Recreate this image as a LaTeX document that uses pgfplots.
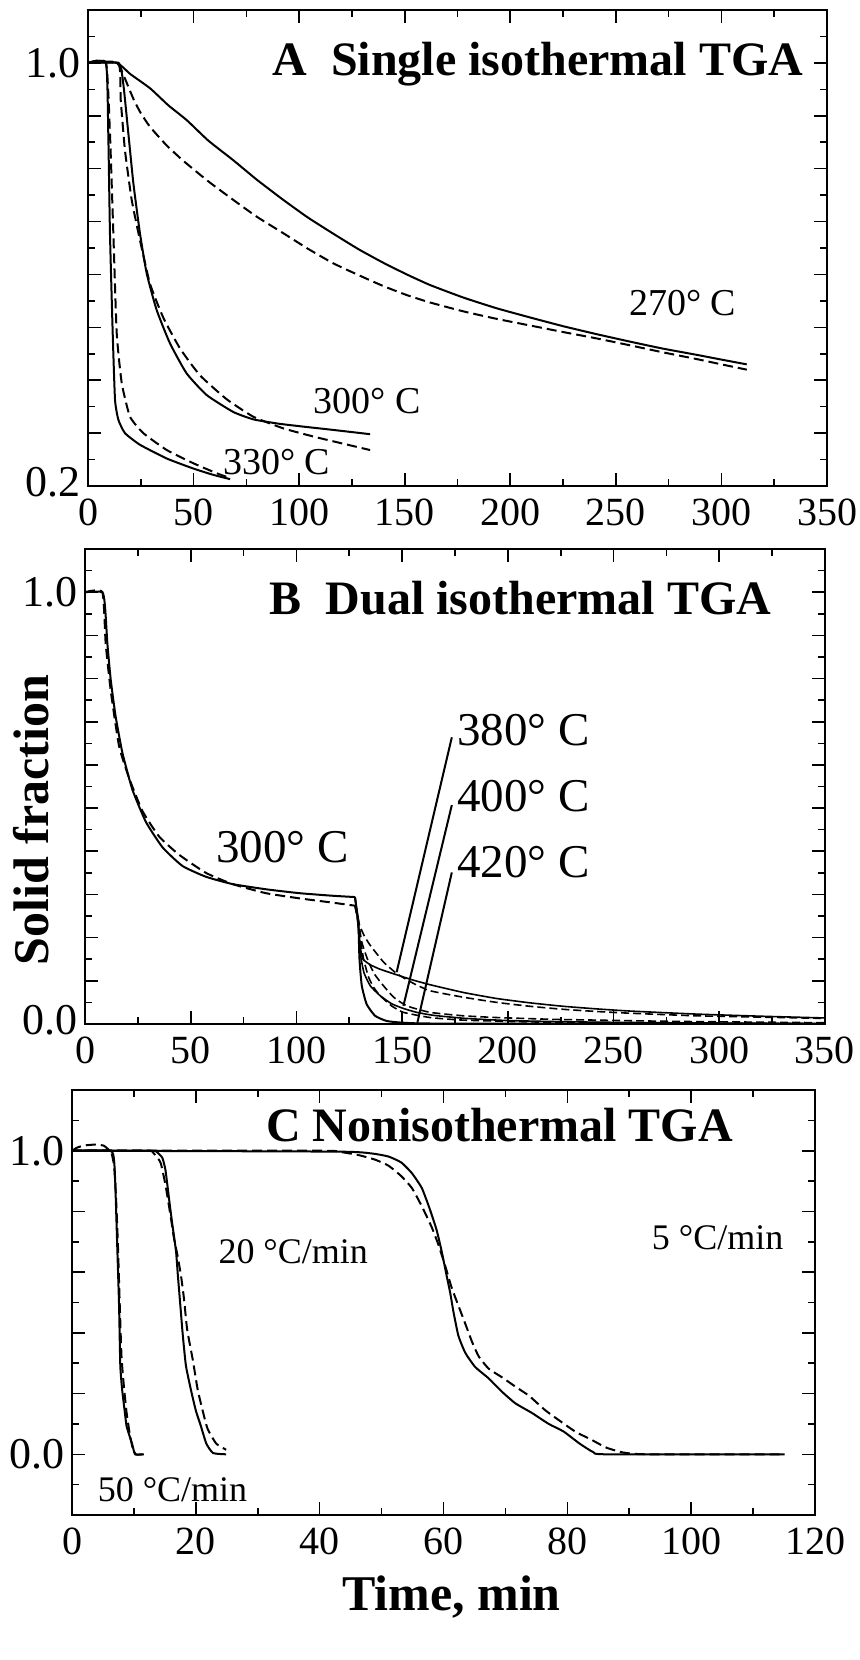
\documentclass[border=0pt]{standalone}
\usepackage{fontspec}
\setmainfont{Liberation Serif}
\usepackage{pgfplots}
\pgfplotsset{compat=1.18}
\newcommand\xtf{\fontsize{20}{20}\selectfont}
\newcommand\ytf{\fontsize{22}{22}\selectfont}
\newcommand\ttf{\fontsize{24}{24}\selectfont\bfseries}
\newcommand\lbf{\fontsize{25}{25}\selectfont\bfseries}
\newcommand\laf{\fontsize{19}{19}\selectfont}
\newcommand\lbb{\fontsize{23.5}{23.5}\selectfont}
\newcommand\lcf{\fontsize{18}{18}\selectfont}
\pgfplotsset{
  panel/.style={
    scale only axis, anchor=south west,
    axis line style={line width=1.1pt},
    tick style={black, line width=0.8pt},
    major tick length=6.5pt, minor tick length=3.5pt,
    tick align=inside, tick pos=both,
    /pgf/number format/assume math mode=true,
    xticklabel style={font=\xtf, yshift=-3pt},
    yticklabel style={font=\ytf},
  },
  sol/.style={black, line width=1pt, smooth, tension=0.3},
  das/.style={black, line width=1pt, dash pattern=on 5pt off 2.5pt, smooth, tension=0.3},
  thn/.style={black, line width=0.8pt, smooth, tension=0.3},
  thd/.style={black, line width=0.8pt, dash pattern=on 4pt off 2pt, smooth, tension=0.3},
}
\begin{document}
\begin{tikzpicture}
\useasboundingbox (0,0) rectangle (429.5pt,-830pt);
% ---------------- Panel A ----------------
\begin{axis}[panel, at={(44pt,-243pt)}, width=369.5pt, height=238pt,
  xmin=0, xmax=350, ymin=0.2, ymax=1.1,
  xtick={0,50,...,350}, minor xtick={25,75,...,325},
  ytick={0.2,0.3,0.4,0.5,0.6,0.7,0.8,0.9,1.0},
  yticklabels={\raisebox{4pt}{0.2},{},{},{},{},{},{},{},1.0},
  minor ytick={0.25,0.35,0.45,0.55,0.65,0.75,0.85,0.95,1.05},
]
% 270 C
\addplot[sol] coordinates {(0,1.0)(13.6,1.0)(20,0.979)(29.4,0.952)(38,0.920)(46.7,0.892)(57,0.853)(68.8,0.816)(80,0.779)(92.5,0.741)(104,0.708)(116.2,0.677)(128,0.648)(139.9,0.622)(151,0.600)(162,0.580)(178,0.556)(193.6,0.536)(210,0.518)(225.2,0.502)(241,0.487)(256.7,0.473)(272,0.460)(288.3,0.448)(300,0.439)(312,0.430)};
\addplot[das] coordinates {(0,1.0)(13.6,1.0)(17,0.975)(21.5,0.932)(25,0.905)(29.4,0.879)(37,0.845)(45.1,0.815)(57,0.776)(68.8,0.741)(80,0.709)(92.5,0.678)(104,0.649)(116.2,0.621)(128,0.599)(139.9,0.578)(151,0.561)(162,0.547)(178,0.530)(193.6,0.516)(210,0.503)(225.2,0.491)(241,0.479)(256.7,0.466)(272,0.453)(288.3,0.440)(300,0.430)(312,0.420)};
% 300 C
\addplot[sol] coordinates {(0,1.0)(14.4,1.0)(16.7,0.961)(19.1,0.867)(21.5,0.772)(24.6,0.678)(27.8,0.602)(32.5,0.533)(38.8,0.470)(46.7,0.413)(56.2,0.372)(68.8,0.340)(78.3,0.326)(90,0.318)(100.4,0.313)(116.2,0.306)(133.6,0.298)};
\addplot[das] coordinates {(0,1.0)(14.4,1.0)(15.5,0.930)(17.5,0.835)(20.7,0.741)(24.6,0.665)(29.4,0.582)(35.7,0.518)(43.6,0.460)(53.1,0.409)(65.7,0.364)(78.3,0.331)(92.5,0.309)(108.3,0.292)(133.6,0.268)};
% 330 C
\addplot[sol] coordinates {(0,1.0)(8.5,0.999)(9.6,0.867)(10.4,0.678)(11.7,0.489)(12.8,0.363)(14.4,0.325)(17.5,0.300)(24.6,0.278)(37.3,0.252)(49.9,0.233)(59.4,0.221)(67.3,0.213)};
\addplot[das] coordinates {(0,1.0)(8.5,1.0)(10.4,0.867)(12.0,0.678)(13.6,0.489)(16.0,0.394)(19.9,0.331)(26.2,0.300)(37.3,0.268)(49.9,0.243)(61.0,0.224)(67.3,0.215)};
\node[anchor=base west, inner sep=0pt, font=\ttf] at (axis cs:87.2,0.977) {A\enspace Single isothermal TGA};
\node[anchor=base west, inner sep=0pt, font=\laf] at (axis cs:256.1,0.523) {270° C};
\node[anchor=base west, inner sep=0pt, font=\laf] at (axis cs:106.6,0.338) {300° C};
\node[anchor=base west, inner sep=0pt, font=\laf] at (axis cs:63.9,0.221) {330° C};
\end{axis}
% ---------------- Panel B ----------------
\begin{axis}[panel, at={(42.5pt,-512pt)}, width=370pt, height=237.5pt,
  xmin=0, xmax=350, ymin=0, ymax=1.1,
  xtick={0,50,...,350}, minor xtick={25,75,...,325},
  ytick={0.0,0.1,0.2,0.3,0.4,0.5,0.6,0.7,0.8,0.9,1.0},
  yticklabels={\raisebox{4pt}{0.0},{},{},{},{},{},{},{},{},{},1.0},
  minor ytick={0.05,0.15,0.25,0.35,0.45,0.55,0.65,0.75,0.85,0.95,1.05},
]
% 300 C stage
\addplot[sol] coordinates {(0,1.0)(8.2,1.0)(9.5,0.965)(10.6,0.880)(12.2,0.796)(14.5,0.712)(17.7,0.628)(22.4,0.543)(28.8,0.468)(36.7,0.409)(46.1,0.366)(57.2,0.341)(69.8,0.324)(85.6,0.312)(101.4,0.303)(117.2,0.297)(127.7,0.294)};
\addplot[das] coordinates {(0,1.0)(8.2,1.0)(9.8,0.880)(12.2,0.771)(16.1,0.644)(20.9,0.569)(27.2,0.493)(35.1,0.434)(44.5,0.392)(57.2,0.350)(69.8,0.324)(85.6,0.303)(101.4,0.291)(117.2,0.281)(127.7,0.274)};
% 380 C
\addplot[thn] coordinates {(127.7,0.294)(128.5,0.265)(129.3,0.230)(130.3,0.175)(131.5,0.150)(135,0.137)(139.5,0.127)(147.4,0.114)(155,0.102)(163.2,0.091)(179,0.073)(194.8,0.059)(210.5,0.049)(226.3,0.041)(242,0.035)(257.8,0.030)(289,0.023)(320,0.018)(350,0.014)};
\addplot[thd] coordinates {(127.7,0.274)(128.5,0.255)(129.8,0.230)(132,0.205)(134.8,0.183)(141.1,0.144)(147.4,0.117)(155,0.095)(163.2,0.077)(179,0.062)(194.8,0.050)(210.5,0.041)(226.3,0.034)(242,0.029)(257.8,0.025)(289,0.019)(320,0.016)(350,0.013)};
% 400 C
\addplot[thn] coordinates {(127.7,0.294)(128.5,0.26)(129.3,0.22)(130.3,0.16)(132,0.118)(135,0.088)(139.5,0.066)(145,0.047)(150.6,0.036)(156.9,0.027)(165,0.020)(180,0.013)(200,0.008)(230,0.005)(270,0.003)(350,0.001)};
\addplot[thd] coordinates {(127.7,0.274)(129,0.25)(130.9,0.19)(134,0.145)(137,0.115)(141.1,0.089)(146,0.062)(152.2,0.042)(163.2,0.027)(179,0.019)(194.8,0.015)(220,0.011)(242,0.009)(280,0.006)(350,0.003)};
% 420 C
\addplot[sol] coordinates {(127.7,0.294)(128.5,0.265)(129.3,0.238)(129.8,0.152)(130.9,0.089)(133.2,0.046)(137.2,0.019)(142.7,0.007)(150.6,0.003)(170,0.001)(350,0.0)};
\addplot[thd] coordinates {(127.7,0.274)(129,0.24)(130.5,0.19)(131.7,0.152)(134,0.11)(136.5,0.085)(139.5,0.066)(145,0.042)(150.6,0.027)(163.2,0.015)(179,0.009)(210,0.005)(260,0.002)(350,0.001)};
\draw[line width=1pt] (axis cs:173.5,0.664) -- (axis cs:147.4,0.120);
\draw[line width=1pt] (axis cs:173.5,0.507) -- (axis cs:150.6,0.042);
\draw[line width=1pt] (axis cs:173.5,0.351) -- (axis cs:157.2,0.003);
\node[anchor=base west, inner sep=0pt, font=\ttf] at (axis cs:87.2,0.949) {B\enspace Dual isothermal TGA};
\node[anchor=base west, inner sep=0pt, font=\lbb] at (axis cs:61.9,0.375) {300° C};
\node[anchor=base west, inner sep=0pt, font=\lbb] at (axis cs:175.8,0.645) {380° C};
\node[anchor=base west, inner sep=0pt, font=\lbb] at (axis cs:175.8,0.492) {400° C};
\node[anchor=base west, inner sep=0pt, font=\lbb] at (axis cs:175.8,0.340) {420° C};
\end{axis}
\node[rotate=90, font=\lbf, inner sep=0pt] at (15.5pt,-410pt) {Solid fraction};
% ---------------- Panel C ----------------
\begin{axis}[panel, at={(36pt,-757.5pt)}, width=371.5pt, height=212.5pt,
  xmin=0, xmax=120, ymin=-0.2, ymax=1.2,
  xtick={0,20,...,120}, minor xtick={10,30,...,110},
  ytick={0.0,0.2,0.4,0.6,0.8,1.0},
  yticklabels={0.0,{},{},{},{},1.0},
  minor ytick={-0.1,0.1,0.3,0.5,0.7,0.9,1.1},
]
% 50 C/min
\addplot[sol] coordinates {(0,1.0)(6.2,1.0)(6.8,0.966)(7.0,0.887)(7.3,0.689)(7.6,0.490)(7.8,0.292)(8.1,0.213)(8.5,0.144)(8.8,0.094)(9.3,0.06)(9.7,0.035)(10.2,0.0)(11.6,0.0)};
\addplot[das] coordinates {(0,1.0)(0.8,1.01)(1.9,1.017)(3.5,1.020)(5.1,1.017)(6.0,1.002)(6.3,1.0)(6.8,0.95)(7.1,0.85)(7.4,0.70)(7.7,0.50)(8.0,0.32)(8.4,0.22)(8.8,0.14)(9.3,0.07)(9.8,0.02)(10.3,0.0)(11.4,0.0)};
% 20 C/min
\addplot[sol] coordinates {(0,1.0)(12.7,1.0)(13.8,0.994)(14.6,0.976)(15.1,0.936)(15.7,0.837)(16.2,0.758)(16.8,0.669)(17.1,0.589)(17.5,0.490)(17.9,0.391)(18.4,0.292)(19.2,0.213)(20.0,0.144)(20.8,0.094)(21.7,0.035)(22.8,0.004)(24.9,0.0)};
\addplot[das] coordinates {(0,1.0)(12.2,1.0)(13.2,0.991)(14.3,0.961)(15.1,0.887)(15.9,0.788)(16.5,0.708)(17.0,0.659)(17.6,0.589)(18.1,0.510)(18.6,0.411)(19.5,0.312)(20.3,0.213)(21.1,0.144)(21.9,0.084)(23.3,0.035)(24.9,0.015)};
% 5 C/min
\addplot[sol] coordinates {(0,1.0)(43,0.997)(48.4,0.991)(51.1,0.981)(53.2,0.961)(54.9,0.926)(56.5,0.877)(57.8,0.807)(58.9,0.738)(59.7,0.669)(60.5,0.589)(61.1,0.530)(61.6,0.470)(62.4,0.391)(63.5,0.335)(65.1,0.288)(67.3,0.250)(69.5,0.205)(71.6,0.168)(74.3,0.136)(77.0,0.100)(79.4,0.075)(82.0,0.035)(84.2,0.007)(86.3,0.0)(115.1,0.0)};
\addplot[das] coordinates {(0,1.0)(40,1.0)(43,0.997)(46.2,0.986)(48.9,0.971)(51.1,0.951)(53.2,0.916)(54.9,0.877)(56.5,0.817)(58.1,0.748)(59.2,0.689)(60.3,0.619)(61.3,0.550)(62.4,0.490)(63.5,0.431)(64.6,0.371)(65.7,0.322)(67.3,0.282)(69.5,0.253)(71.6,0.223)(73.8,0.193)(76.5,0.144)(79.7,0.097)(81.5,0.072)(83.7,0.050)(86.3,0.022)(89.0,0.006)(92.8,0.0)(115.1,0.0)};
\node[anchor=base west, inner sep=0pt, font=\ttf] at (axis cs:31.3,1.03) {C Nonisothermal TGA};
\node[anchor=base west, inner sep=0pt, font=\lcf] at (axis cs:23.6,0.63) {20 °C/min};
\node[anchor=base west, inner sep=0pt, font=\lcf] at (axis cs:93.6,0.675) {5 °C/min};
\node[anchor=base west, inner sep=0pt, font=\lcf] at (axis cs:4.1,-0.155) {50 °C/min};
\end{axis}
\node[anchor=base, font=\lbf, inner sep=0pt] at (225.75pt,-805pt) {Time, min};
\end{tikzpicture}
\end{document}
